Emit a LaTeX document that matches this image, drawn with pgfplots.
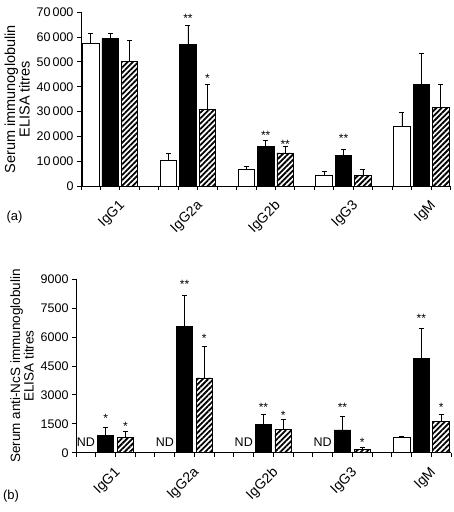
\documentclass[border=0pt]{standalone}
\usepackage{fontspec}
\setmainfont{Liberation Sans}
\usepackage{pgfplots}
\usepackage{pgfplotstable}
\pgfplotsset{compat=1.18}
\usetikzlibrary{patterns.meta}

% g = first slot of group; w/b/h = white/black/hatched means; e = upper error
\pgfplotstableread{
g w we b be h he
0 57400 4300 59300 2400 50300 8400
4 10300 2900 57100 7800 31000 9900
8 6700 1200 15900 2500 13300 2600
12 4200 1600 12200 2700 4200 2500
16 24100 5600 41100 12400 31700 9300
}\topdata

\pgfplotstableread{
g w we b be h he
0 nan nan 900 400 780 310
4 nan nan 6560 1620 3880 1640
8 nan nan 1470 520 1210 520
12 nan nan 1180 710 170 120
16 810 40 4880 1570 1610 380
}\botdata

\pgfplotsset{
 immstyle/.style={
  scale only axis, xmin=0, xmax=19, ymin=0,
  axis lines=left, axis line style={-, line width=0.9pt},
  tick style={line width=0.9pt, black},
  tick align=outside, major tick length=4pt, minor tick length=4pt,
  xtick={1.5,5.5,9.5,13.5,17.5},
  xticklabels={IgG1,IgG2a,IgG2b,IgG3,IgM},
  minor xtick={0,1,...,19},
  major x tick style={draw=none},
  xticklabel style={xshift=8pt, yshift=-9pt, rotate=45, anchor=north east, font=\fontsize{14}{14}\selectfont, inner sep=0pt},
  yticklabel style={font=\fontsize{12.5}{12.5}\selectfont},
  /pgf/number format/assume math mode=true,
  /pgf/number format/1000 sep={\,},
  /pgf/number format/min exponent for 1000 sep=4,
  scaled y ticks=false,
  ybar, bar width=16.5pt, bar shift=0pt,
  ylabel style={align=center},
  clip=false,
 },
 errs/.style={error bars/.cd, y dir=plus, y explicit,
   error bar style={line width=0.6pt, black},
   error mark options={rotate=90, mark size=2.5pt, line width=0.6pt, black}},
 whitebar/.style={fill=white, draw=black, line width=0.8pt, errs},
 blackbar/.style={fill=black, draw=black, line width=0.8pt, errs},
 hatchbar/.style={draw=black, line width=0.8pt, pattern={Lines[angle=45, distance=3.8pt, line width=1.8pt]}, pattern color=black, errs},
}
\tikzset{
 starlbl/.style={anchor=base, yshift=-6.8pt, font=\fontsize{12}{12}\selectfont, inner sep=0pt},
 ndlbl/.style={anchor=base, font=\fontsize{12.5}{12.5}\selectfont, inner sep=0pt},
}

\begin{document}
\begin{tikzpicture}
\useasboundingbox (0,0) rectangle (454pt,512pt);

\begin{axis}[immstyle,
  at={(81pt,326pt)}, anchor=south west,
  width=369.5pt, height=173.7pt,
  ymax=70000, ytick={0,10000,...,70000},
  ylabel={Serum immunoglobulin\\ELISA titres},
  ylabel style={font=\fontsize{14.5}{13.5}\selectfont},
]
\addplot[whitebar] table[x expr=\thisrow{g}+0.5, y=w, y error=we] {\topdata};
\addplot[blackbar] table[x expr=\thisrow{g}+1.5, y=b, y error=be] {\topdata};
\addplot[hatchbar] table[x expr=\thisrow{g}+2.5, y=h, y error=he] {\topdata};
\node[starlbl] at (axis cs:5.5,68700) {**};
\node[starlbl] at (axis cs:6.5,44400) {*};
\node[starlbl] at (axis cs:9.5,21600) {**};
\node[starlbl] at (axis cs:10.5,18000) {**};
\node[starlbl] at (axis cs:13.5,20200) {**};
\end{axis}

\begin{axis}[immstyle,
  at={(76pt,59.3pt)}, anchor=south west,
  width=375pt, height=173.4pt,
  ymax=9000, ytick={0,1500,...,9000},
  ylabel={Serum anti-NcS immunoglobulin\\ELISA titres},
  ylabel style={font=\fontsize{13.5}{13.5}\selectfont},
]
\addplot[whitebar] table[x expr=\thisrow{g}+0.5, y=w, y error=we] {\botdata};
\addplot[blackbar] table[x expr=\thisrow{g}+1.5, y=b, y error=be] {\botdata};
\addplot[hatchbar] table[x expr=\thisrow{g}+2.5, y=h, y error=he] {\botdata};
\node[ndlbl] at (axis cs:0.5,300) {ND};
\node[ndlbl] at (axis cs:4.5,300) {ND};
\node[ndlbl] at (axis cs:8.5,300) {ND};
\node[ndlbl] at (axis cs:12.5,300) {ND};
\node[starlbl] at (axis cs:1.5,1920) {*};
\node[starlbl] at (axis cs:2.5,1525) {*};
\node[starlbl] at (axis cs:5.5,8875) {**};
\node[starlbl] at (axis cs:6.5,6070) {*};
\node[starlbl] at (axis cs:9.5,2475) {**};
\node[starlbl] at (axis cs:10.5,2095) {*};
\node[starlbl] at (axis cs:13.5,2475) {**};
\node[starlbl] at (axis cs:14.5,695) {*};
\node[starlbl] at (axis cs:17.5,7110) {**};
\node[starlbl] at (axis cs:18.5,2475) {*};
\end{axis}

\node[font=\fontsize{13}{13}\selectfont] at (14.5pt,295pt) {(a)};
\node[font=\fontsize{13}{13}\selectfont] at (11pt,16pt) {(b)};
\end{tikzpicture}
\end{document}
